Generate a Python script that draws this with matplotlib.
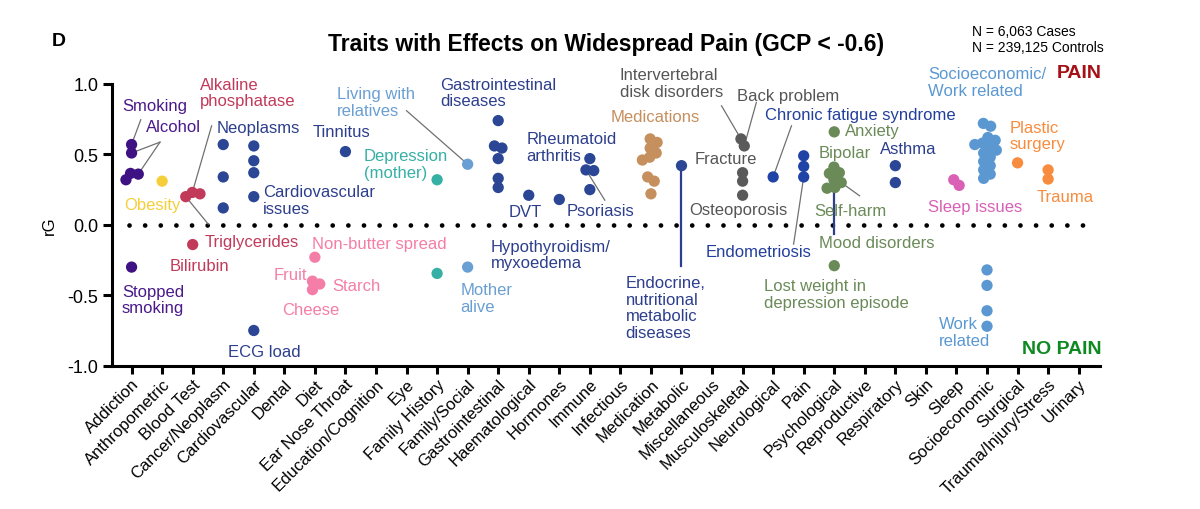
import numpy as np
import matplotlib.pyplot as plt
from matplotlib import font_manager

installed = {f.name for f in font_manager.fontManager.ttflist}
NARROW = 'Liberation Sans Narrow' in installed

plt.rcParams['font.family'] = ['Liberation Sans', 'DejaVu Sans']
plt.rcParams['axes.unicode_minus'] = False

categories = ['Addiction', 'Anthropometric', 'Blood Test', 'Cancer/Neoplasm', 'Cardiovascular',
              'Dental', 'Diet', 'Ear Nose Throat', 'Education/Cognition', 'Eye', 'Family History',
              'Family/Social', 'Gastrointestinal', 'Haematological', 'Hormones', 'Immune',
              'Infectious', 'Medication', 'Metabolic', 'Miscellaneous', 'Musculoskeletal',
              'Neurological', 'Pain', 'Psychological', 'Reproductive', 'Respiratory', 'Skin',
              'Sleep', 'Socioeconomic', 'Surgical', 'Trauma/Injury/Stress', 'Urinary']

# rG values
addiction = [0.57, 0.51, 0.365, 0.36, 0.32, -0.30]
anthropometric = [0.31]
blood_test = [0.23, 0.22, 0.20, -0.14]
cancer = [0.57, 0.34, 0.12]
cardiovascular = [0.56, 0.455, 0.37, 0.20, -0.75]
diet = [-0.23, -0.40, -0.42, -0.46]
ear_nose_throat = [0.52]
family_history = [0.32, -0.345]
family_social = [0.43, -0.30]
gastrointestinal = [0.74, 0.56, 0.545, 0.47, 0.33, 0.265]
haematological = [0.21]
hormones = [0.18]
immune = [0.47, 0.39, 0.385, 0.25]
medication = [0.61, 0.585, 0.545, 0.51, 0.48, 0.46, 0.34, 0.31, 0.22]
metabolic = [0.42]
musculoskeletal = [0.61, 0.56, 0.37, 0.31, 0.21]
neurological = [0.34]
pain = [0.49, 0.415, 0.34]
psychological = [0.66, 0.41, 0.37, 0.365, 0.32, 0.30, 0.265, 0.26, -0.29]
respiratory = [0.42, 0.30]
sleep = [0.32, 0.28]
socioeconomic = [0.72, 0.70, 0.62, 0.60, 0.58, 0.57, 0.55, 0.53, 0.51, 0.48, 0.45, 0.42,
                 0.39, 0.36, 0.33, -0.32, -0.43, -0.61, -0.72]
surgical = [0.44]
trauma = [0.39, 0.325]

values = {
    'Addiction': addiction, 'Anthropometric': anthropometric, 'Blood Test': blood_test,
    'Cancer/Neoplasm': cancer, 'Cardiovascular': cardiovascular, 'Diet': diet,
    'Ear Nose Throat': ear_nose_throat, 'Family History': family_history,
    'Family/Social': family_social, 'Gastrointestinal': gastrointestinal,
    'Haematological': haematological, 'Hormones': hormones, 'Immune': immune,
    'Medication': medication, 'Metabolic': metabolic, 'Musculoskeletal': musculoskeletal,
    'Neurological': neurological, 'Pain': pain, 'Psychological': psychological,
    'Respiratory': respiratory, 'Sleep': sleep, 'Socioeconomic': socioeconomic,
    'Surgical': surgical, 'Trauma/Injury/Stress': trauma,
}

NAVY = '#2a4695'
NAVY_T = '#2c3e8c'
colors = {
    'Addiction': '#3f1283', 'Anthropometric': '#f5cf3a', 'Blood Test': '#c23a5a',
    'Cancer/Neoplasm': NAVY, 'Cardiovascular': NAVY, 'Diet': '#f47ea7',
    'Ear Nose Throat': NAVY, 'Family History': '#36b0a5', 'Family/Social': '#6a9fd3',
    'Gastrointestinal': NAVY, 'Haematological': NAVY, 'Hormones': NAVY, 'Immune': NAVY,
    'Medication': '#c68f5e', 'Metabolic': NAVY, 'Musculoskeletal': '#5a5a5a',
    'Neurological': '#1f44a6', 'Pain': '#1f44a6', 'Psychological': '#6a8a58',
    'Respiratory': NAVY, 'Sleep': '#d960b5', 'Socioeconomic': '#5b98d2',
    'Surgical': '#f78c3e', 'Trauma/Injury/Stress': '#f78c3e',
}

fig = plt.figure(figsize=(12, 5.1), dpi=100)
ax = fig.add_axes([0.0931, 0.281, 0.8236, 0.5524])
ax.set_xlim(-0.65, 31.7)
ax.set_ylim(-1, 1)

# pixels per data unit, used to spread overlapping points sideways
px_x = 0.8236 * 1200 / (31.7 + 0.65)
px_y = 0.5524 * 510 / 2.0


def swarm(vals, dmin=7.8):
    order = np.argsort(vals)[::-1]
    placed = []
    offs = np.zeros(len(vals))
    for i in order:
        y = vals[i] * px_y
        cands = [0.0]
        for xj, yj in placed:
            dy = abs(y - yj)
            if dy < dmin:
                dx = np.sqrt(dmin ** 2 - dy ** 2)
                cands += [xj + dx, xj - dx]
        ok = [c for c in cands
              if all((c - xj) ** 2 + (y - yj) ** 2 >= dmin ** 2 - 1e-6 for xj, yj in placed)]
        best = min(ok, key=lambda c: (round(abs(c), 3), -c))
        placed.append((best, y))
        offs[i] = best
    # centre each connected group
    ys = np.array(vals) * px_y
    srt = list(order)
    group = [srt[0]]
    groups = []
    for a, b in zip(srt[:-1], srt[1:]):
        if abs(ys[a] - ys[b]) < dmin:
            group.append(b)
        else:
            groups.append(group)
            group = [b]
    groups.append(group)
    for g in groups:
        offs[g] -= offs[g].mean()
    return offs / px_x


positions = {}
for cat, vals in values.items():
    xi = categories.index(cat)
    offs = swarm(vals)
    xs = xi + offs
    positions[cat] = list(zip(xs, vals))
    ax.scatter(xs, vals, s=66, color=colors[cat], edgecolors='none', zorder=3)

# dotted zero line
ax.plot([-0.1, 31.2], [0, 0], color='black', lw=3.4, linestyle=(0, (0.01, 3.3)),
        dash_capstyle='round', zorder=1)


def pt(cat, v):
    return positions[cat][values[cat].index(v)]


GRAY_L = '#707070'
leaders = [
    ((0.30, 0.746), 'Addiction', 0.57),
    ((0.93, 0.587), 'Addiction', 0.51),
    ((0.93, 0.587), 'Addiction', 0.36),
    ((2.62, 0.703), 'Blood Test', 0.23),
    ((2.51, 0.005), 'Blood Test', 0.20),
    ((9.0, 0.81), 'Family/Social', 0.43),
    ((15.49, 0.175), 'Immune', 0.39),
    ((19.31, 0.845), 'Musculoskeletal', 0.61),
    ((20.45, 0.869), 'Musculoskeletal', 0.56),
    ((21.6, 0.703), 'Neurological', 0.34),
    ((21.67, -0.137), 'Pain', 0.34),
    ((23.83, 0.206), 'Psychological', 0.30),
]
for (tx, ty), cat, v in leaders:
    x0, y0 = pt(cat, v)
    ax.plot([tx, x0], [ty, y0], color=GRAY_L, lw=0.9, zorder=2)

# thicker vertical connectors
mx, my = pt('Metabolic', 0.42)
ax.plot([mx, mx], [my, -0.29], color=NAVY_T, lw=1.6, zorder=2)
ax.plot([23, 23], [0.24, -0.066], color=NAVY_T, lw=1.6, zorder=2)

GRAY_T = '#555555'
labels = [
    ('Smoking', -0.32, 0.85, 'left', '#4a1a8a'),
    ('Alcohol', 0.47, 0.70, 'left', '#4a1a8a'),
    ('Obesity', 0.68, 0.147, 'center', '#f5cf3a'),
    ('Alkaline\nphosphatase', 2.235, 0.94, 'left', '#c23a5a'),
    ('Triglycerides', 2.40, -0.115, 'left', '#c23a5a'),
    ('Bilirubin', 2.23, -0.29, 'center', '#c23a5a'),
    ('Neoplasms', 2.78, 0.69, 'left', NAVY_T),
    ('Cardiovascular\nissues', 4.31, 0.175, 'left', NAVY_T),
    ('Stopped\nsmoking', -0.32, -0.53, 'left', '#4a1a8a'),
    ('ECG load', 4.35, -0.90, 'center', NAVY_T),
    ('Tinnitus', 6.88, 0.66, 'center', NAVY_T),
    ('Living with\nrelatives', 6.72, 0.87, 'left', '#6a9fd3'),
    ('Depression\n(mother)', 7.60, 0.433, 'left', '#36b0a5'),
    ('Gastrointestinal\ndiseases', 10.09, 0.94, 'left', NAVY_T),
    ('Rheumatoid\narthritis', 12.93, 0.55, 'left', NAVY_T),
    ('DVT', 12.87, 0.092, 'center', NAVY_T),
    ('Psoriasis', 15.36, 0.103, 'center', NAVY_T),
    ('Hypothyroidism/\nmyxoedema', 11.76, -0.21, 'left', NAVY_T),
    ('Mother\nalive', 10.76, -0.52, 'left', '#6a9fd3'),
    ('Non-butter spread', 5.92, -0.13, 'left', '#f47ea7'),
    ('Fruit', 5.74, -0.35, 'right', '#f47ea7'),
    ('Starch', 6.58, -0.43, 'left', '#f47ea7'),
    ('Cheese', 4.92, -0.60, 'left', '#f47ea7'),
    ('Medications', 15.67, 0.77, 'left', '#c68f5e'),
    ('Intervertebral\ndisk disorders', 15.98, 1.006, 'left', GRAY_T),
    ('Back problem', 19.82, 0.916, 'left', GRAY_T),
    ('Fracture', 18.43, 0.47, 'left', GRAY_T),
    ('Osteoporosis', 18.25, 0.107, 'left', GRAY_T),
    ('Chronic fatigue syndrome', 20.72, 0.786, 'left', '#233f9c'),
    ('Endometriosis', 18.79, -0.19, 'left', '#233f9c'),
    ('Endocrine,\nnutritional\nmetabolic\ndiseases', 16.17, -0.587, 'left', NAVY_T),
    ('Anxiety', 23.34, 0.668, 'left', '#6a8a58'),
    ('Bipolar', 22.5, 0.514, 'left', '#6a8a58'),
    ('Self-harm', 22.36, 0.103, 'left', '#6a8a58'),
    ('Mood disorders', 22.49, -0.123, 'left', '#6a8a58'),
    ('Lost weight in\ndepression episode', 20.69, -0.49, 'left', '#6a8a58'),
    ('Asthma', 24.49, 0.54, 'left', NAVY_T),
    ('Sleep issues', 26.06, 0.133, 'left', '#d960b5'),
    ('Socioeconomic/\nWork related', 26.07, 1.013, 'left', '#5b98d2'),
    ('Plastic\nsurgery', 28.74, 0.634, 'left', '#f78c3e'),
    ('Trauma', 29.63, 0.20, 'left', '#f78c3e'),
    ('Work\nrelated', 26.42, -0.76, 'left', '#5b98d2'),
]
for text, x, y, ha, col in labels:
    ax.text(x, y, text, ha=ha, va='center', color=col, fontsize=12, linespacing=1.15,
            zorder=4)

ax.text(31.74, 1.082, 'PAIN', ha='right', va='center', color='#a50f15', fontsize=14,
        weight='bold')
ax.text(31.74, -0.88, 'NO PAIN', ha='right', va='center', color='#0f8a22', fontsize=14,
        weight='bold')

# axes styling
for side in ['top', 'right']:
    ax.spines[side].set_visible(False)
for side in ['left', 'bottom']:
    ax.spines[side].set_linewidth(2.2)
ax.set_yticks([-1, -0.5, 0, 0.5, 1])
ax.set_yticklabels(['-1.0', '-0.5', '0.0', '0.5', '1.0'])
ax.set_xticks(range(len(categories)))
ax.set_xticklabels(categories, rotation=45, ha='right', rotation_mode='anchor')
ax.tick_params(axis='y', length=6.5, width=2.2, labelsize=13, pad=3)
ax.tick_params(axis='x', length=5.5, width=2.2, labelsize=12, pad=2)
ax.set_ylabel('rG', fontsize=12)
ax.yaxis.set_label_coords(-0.055, 0.5)

if NARROW:
    tfam, tsize, nsize = ['Liberation Sans Narrow', 'Liberation Sans'], 20, 12
else:
    tfam, tsize, nsize = ['Liberation Sans', 'DejaVu Sans'], 16.5, 10
fig.text(606 / 1200, 1 - 45 / 510, 'Traits with Effects on Widespread Pain (GCP < -0.6)',
         ha='center', va='center', weight='bold', fontsize=tsize, family=tfam)
fig.text(972 / 1200, 1 - 40 / 510, 'N = 6,063 Cases\nN = 239,125 Controls', ha='left',
         va='center', fontsize=nsize, family=tfam, linespacing=1.1)
fig.text(52 / 1200, 1 - 41 / 510, 'D', ha='left', va='center', weight='bold', fontsize=14)

fig.savefig('out.png', dpi=100)
